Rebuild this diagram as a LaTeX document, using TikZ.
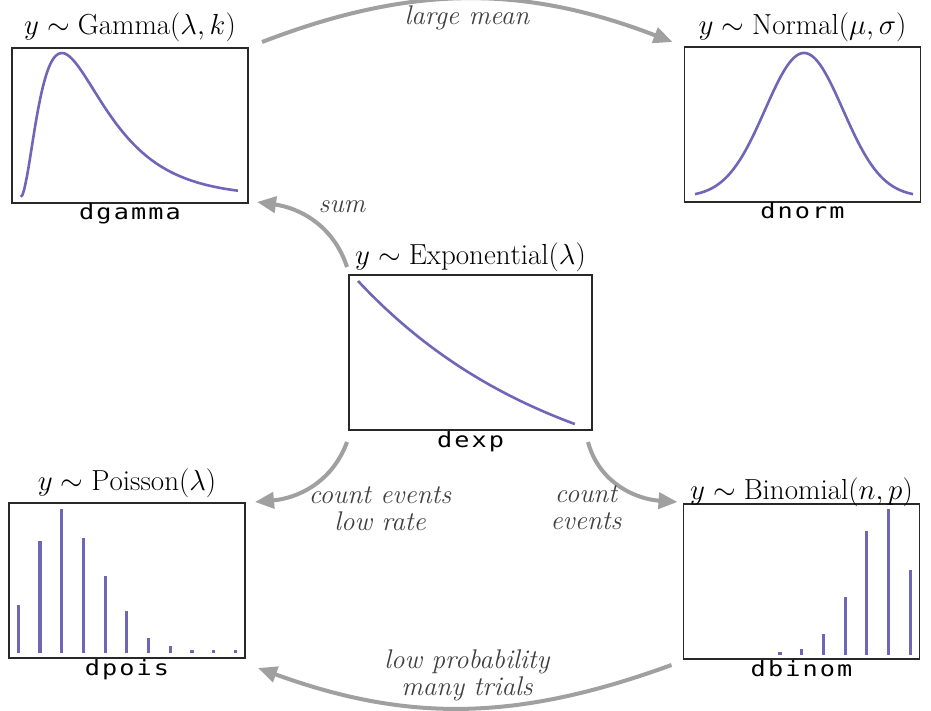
\RequirePackage{fix-cm}
\documentclass[tikz,border=0pt]{standalone}
\usepackage{fontspec}
\newfontfamily\codefont{DejaVu Sans Mono}[FakeStretch=1.2,LetterSpace=10]
\usetikzlibrary{arrows.meta,positioning}
\definecolor{curve}{RGB}{112,102,184}
\definecolor{linkgray}{RGB}{160,160,160}
\definecolor{labelgray}{RGB}{64,64,64}
\definecolor{frame}{RGB}{40,40,40}
\begin{document}
\begin{tikzpicture}[x=1pt,y=1pt,
plot box/.style={draw=frame,line width=1.8pt,minimum width=236pt,minimum height=155pt,inner sep=0pt,outer sep=0pt},
dist title/.style={font=\fontsize{29}{31}\selectfont,anchor=base,inner sep=0pt},
fn label/.style={font=\codefont\fontsize{21}{23}\selectfont,anchor=base,inner sep=0pt},
link/.style={draw=linkgray,line width=4pt,-{Triangle[length=19pt,width=16pt]}},
link label/.style={font=\fontsize{27}{27}\selectfont\itshape,text=labelgray,align=center,inner sep=0pt},
density/.style={draw=curve,line width=2.6pt},
bar/.style={draw=curve,line width=3.2pt}]
\fill[white] (0,0) rectangle (931,710);
\useasboundingbox (0,0) rectangle (931,710);

% the five boxes
\node[plot box] (gbox) at (130,584.5) {};
\node[plot box] (nbox) at (802.5,585.5) {};
\node[plot box,minimum width=243pt] (ebox) at (470.5,357.5) {};
\node[plot box] (pbox) at (127,129.5) {};
\node[plot box] (bbox) at (801.5,128.5) {};

\node[above=13pt of gbox,dist title] (gtitle) {$y\sim\mathrm{Gamma}(\lambda,k)$};
\node[above=12pt of nbox,dist title] (ntitle) {$y\sim\mathrm{Normal}(\mu,\sigma)$};
\node[above=10pt of ebox,dist title] (etitle) {$y\sim\mathrm{Exponential}(\lambda)$};
\node[above=13pt of pbox,dist title] (ptitle) {$y\sim\mathrm{Poisson}(\lambda)$};
\node[above=5pt of bbox,dist title] (btitle) {$y\sim\mathrm{Binomial}(n,p)$};

\node[below=17pt of gbox,fn label] (gname) {dgamma};
\node[below=17pt of nbox,fn label] (nname) {dnorm};
\node[below=18pt of ebox,fn label] (ename) {dexp};
\node[below=17pt of pbox,fn label] (pname) {dpois};
\node[below=17pt of bbox,fn label] (bname) {dbinom};

% densities
\draw[density] plot[domain=0.02:5.23,samples=140] ({20+41.7*\x},{513+144*exp(3*ln(\x)+5.4545*(1-(\x)^0.55))});
\draw[density] plot[domain=-2.8:2.8,samples=100] ({804+\x*109/2.8},{513+144*exp(-0.5*(\x)*(\x))});
\draw[density] plot[domain=0:1,samples=60] ({358+217*\x},{210+219*exp(-1.06*\x)});

% poisson bars
\draw[bar] (18.3,57) -- ++(0,48);
\draw[bar] (40.0,57) -- ++(0,112);
\draw[bar] (61.7,57) -- ++(0,144);
\draw[bar] (83.4,57) -- ++(0,115);
\draw[bar] (105.1,57) -- ++(0,77);
\draw[bar] (126.8,57) -- ++(0,42);
\draw[bar] (148.5,57) -- ++(0,15);
\draw[bar] (170.2,57) -- ++(0,7);
\draw[bar] (191.9,57) -- ++(0,3);
\draw[bar] (213.6,57) -- ++(0,3);
\draw[bar] (235.3,57) -- ++(0,3);

% binomial bars
\draw[bar] (780.0,55) -- ++(0,3);
\draw[bar] (801.7,55) -- ++(0,6);
\draw[bar] (823.4,55) -- ++(0,21);
\draw[bar] (845.1,55) -- ++(0,58);
\draw[bar] (866.8,55) -- ++(0,124);
\draw[bar] (888.5,55) -- ++(0,146);
\draw[bar] (910.2,55) -- ++(0,85);

% links
\draw[link] ([shift={(14,6)}]gbox.north east) to[out=21,in=159] ([shift={(-12,5)}]nbox.north west);
\draw[link] ([shift={(-2,8)}]ebox.north west) to[out=108,in=-8] ([shift={(9,1)}]gbox.south east);
\draw[link] ([shift={(-2,-12)}]ebox.south west) to[out=-110,in=5] ([shift={(10,1)}]pbox.north east);
\draw[link] ([shift={(-4,-12)}]ebox.south east) to[out=-75,in=176] ([shift={(-6,2)}]bbox.north west);
\draw[link] ([shift={(-12,-6)}]bbox.south west) to[out=200,in=-20] ([shift={(13,-10)}]pbox.south east);

\node[link label] (mean) at (467,692) {large mean};
\node[link label] (sum) at (342,503) {sum};
\node[link label] (lowrate) at (380,201) {count events\\low rate};
\node[link label] (events) at (586,202) {count\\events};
\node[link label] (trials) at (467,35) {low probability\\many trials};

\end{tikzpicture}
\end{document}
